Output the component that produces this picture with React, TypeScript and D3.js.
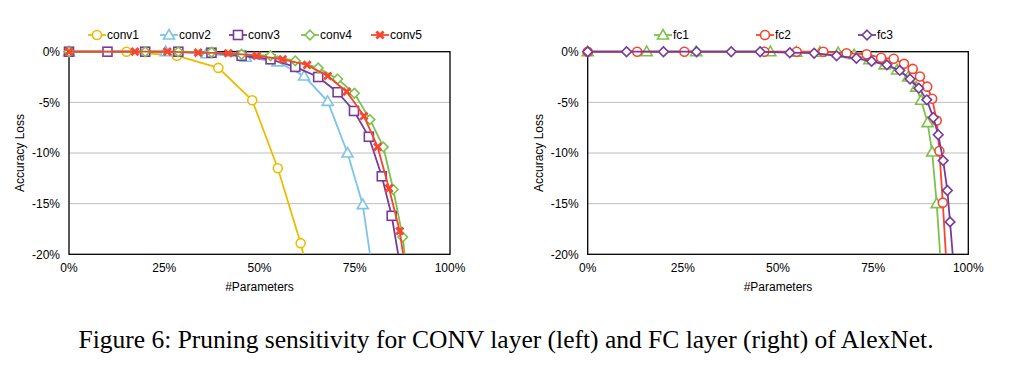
import React from 'react';
import * as d3 from 'd3';

const xTickValues = [0, 25, 50, 75, 100];
const yTickValues = [0, -5, -10, -15, -20];
const leftNames = ['conv1', 'conv2', 'conv3', 'conv4', 'conv5'];
const rightNames = ['fc1', 'fc2', 'fc3'];
const xLabel = '#Parameters';
const yLabel = 'Accuracy Loss';
const caption = 'Figure 6: Pruning sensitivity for CONV layer (left) and FC layer (right) of AlexNet.';

// [% parameters pruned, accuracy loss %]
const conv1: [number, number][] = [[0, 0], [15.1, 0], [28.3, -0.4], [39.2, -1.6], [48.1, -4.8], [54.8, -11.5], [60.8, -18.9], [61.5, -20]];
const conv2: [number, number][] = [[0, 0], [25.4, 0], [36.1, -0.2], [46.4, -0.55], [54.7, -1.0], [61.7, -2.4], [67.9, -4.9], [73.1, -10.0], [77.1, -15.1], [79.0, -20]];
const conv3: [number, number][] = [[0, 0], [10.1, 0], [20, 0], [28.7, 0], [37.4, -0.1], [45.3, -0.4], [52.9, -0.75], [59.4, -1.5], [65.4, -2.5], [70.5, -4.0], [74.8, -5.85], [78.7, -8.4], [82.1, -12.3], [84.7, -16.2], [86.4, -20]];
const conv4: [number, number][] = [[0, 0], [20, 0], [28.7, 0], [37.4, -0.05], [45.3, -0.25], [52.9, -0.4], [59.4, -0.9], [65.4, -1.6], [70.5, -2.7], [74.9, -4.1], [79.0, -6.7], [82.5, -9.4], [85.1, -13.6], [87.6, -18.3], [88.1, -20]];
const conv5: [number, number][] = [[0, 0], [17.3, 0], [25.8, 0], [33.9, -0.1], [41.8, -0.15], [49.3, -0.4], [56.1, -0.75], [62.5, -1.3], [67.9, -2.4], [72.9, -3.95], [77.4, -6.35], [81.0, -9.4], [84.0, -13.5], [86.8, -17.7], [87.7, -20]];

const fc1: [number, number][] = [[0, 0], [15.5, 0], [28.5, 0], [48.0, 0], [54.8, -0.05], [61.0, -0.05], [65.8, -0.1], [70.0, -0.3], [74.0, -0.8], [78.0, -1.3], [81.3, -1.8], [84.2, -2.5], [86.3, -3.5], [87.6, -4.8], [89.3, -7.0], [90.5, -9.9], [91.7, -15.0], [92.6, -20]];
const fc2: [number, number][] = [[0, 0], [13.0, 0], [25.4, 0], [46.4, 0], [54.9, 0], [61.9, 0], [68.0, -0.15], [73.3, -0.25], [77.1, -0.6], [80.4, -0.7], [83.1, -1.2], [85.4, -1.7], [87.3, -2.45], [89.2, -3.45], [90.5, -4.65], [91.7, -6.8], [92.4, -9.8], [93.3, -14.9], [94.1, -20]];
const fc3: [number, number][] = [[0, 0], [10.2, 0], [19.9, 0], [28.6, 0], [37.7, 0], [45.3, 0], [53.1, -0.1], [59.5, -0.15], [65.4, -0.4], [70.6, -0.65], [74.6, -0.95], [78.6, -1.3], [82.0, -1.85], [84.7, -2.7], [87.0, -3.6], [89.1, -4.75], [90.8, -6.5], [92.1, -8.2], [93.4, -10.75], [94.5, -13.7], [95.2, -16.8], [95.9, -20]];

const YELLOW = '#EDBC00';
const BLUE = '#7EC3E8';
const PURPLE = '#7A3A99';
const GREEN = '#7CC24A';
const RED = '#F5472F';

type MarkerType = 'circle' | 'triangle' | 'square' | 'diamond' | 'x';
type Series = { name: string; data: [number, number][]; color: string; marker: MarkerType };

const leftSeries: Series[] = [
  { name: leftNames[0], data: conv1, color: YELLOW, marker: 'circle' },
  { name: leftNames[1], data: conv2, color: BLUE, marker: 'triangle' },
  { name: leftNames[2], data: conv3, color: PURPLE, marker: 'square' },
  { name: leftNames[3], data: conv4, color: GREEN, marker: 'diamond' },
  { name: leftNames[4], data: conv5, color: RED, marker: 'x' },
];
const rightSeries: Series[] = [
  { name: rightNames[0], data: fc1, color: GREEN, marker: 'triangle' },
  { name: rightNames[1], data: fc2, color: RED, marker: 'circle' },
  { name: rightNames[2], data: fc3, color: PURPLE, marker: 'diamond' },
];

const FONT = 'Liberation Sans, Arial, sans-serif';

function Marker({ type, x, y, color }: { type: MarkerType; x: number; y: number; color: string }) {
  const sw = 1.6;
  switch (type) {
    case 'circle':
      return <circle cx={x} cy={y} r={4.5} fill="white" stroke={color} strokeWidth={sw} />;
    case 'square':
      return <rect x={x - 4.5} y={y - 4.5} width={9} height={9} fill="white" stroke={color} strokeWidth={sw} />;
    case 'triangle':
      return <path d={`M${x},${y - 5.5}L${x + 5.5},${y + 4}L${x - 5.5},${y + 4}Z`} fill="white" stroke={color} strokeWidth={sw} />;
    case 'diamond':
      return <path d={`M${x},${y - 4.8}L${x + 4.8},${y}L${x},${y + 4.8}L${x - 4.8},${y}Z`} fill="white" stroke={color} strokeWidth={sw} />;
    case 'x':
      return (
        <g stroke={color} strokeWidth={2.8} strokeLinecap="butt">
          <line x1={x - 3.6} y1={y - 3.6} x2={x + 3.6} y2={y + 3.6} />
          <line x1={x - 3.6} y1={y + 3.6} x2={x + 3.6} y2={y - 3.6} />
        </g>
      );
  }
}

function Chart({ id, x0, x1, series, legendX }: { id: string; x0: number; x1: number; series: Series[]; legendX: number[] }) {
  const top = 51.7;
  const bottom = 254.3;
  const x = d3.scaleLinear().domain([0, 100]).range([x0, x1]);
  const y = d3.scaleLinear().domain([0, -20]).range([top, bottom]);
  const line = d3.line<[number, number]>().x((d) => x(d[0])).y((d) => y(d[1]));
  const cx = (x0 + x1) / 2;
  const cy = (top + bottom) / 2;
  return (
    <g>
      <defs>
        <clipPath id={`clip-${id}`}>
          <rect x={x0 - 8} y={top - 8} width={x1 - x0 + 16} height={bottom - top + 8} />
        </clipPath>
      </defs>
      {yTickValues.slice(1, -1).map((t) => (
        <line key={t} x1={x0} x2={x1} y1={y(t)} y2={y(t)} stroke="#BDBDBD" strokeWidth={1} />
      ))}
      <rect x={x0} y={top} width={x1 - x0} height={bottom - top} fill="none" stroke="#000" strokeWidth={1.3} />
      {yTickValues.map((t) => (
        <text key={t} x={x0 - 9} y={y(t) + 4.2} textAnchor="end" fontFamily={FONT} fontSize={12} fill="#000">
          {`${t}%`}
        </text>
      ))}
      {xTickValues.map((t) => (
        <text key={t} x={x(t)} y={bottom + 18} textAnchor="middle" fontFamily={FONT} fontSize={12} fill="#000">
          {`${t}%`}
        </text>
      ))}
      <text x={cx} y={bottom + 37} textAnchor="middle" fontFamily={FONT} fontSize={12} fill="#000">
        {xLabel}
      </text>
      <text transform={`translate(${x0 - 45},${cy}) rotate(-90)`} textAnchor="middle" fontFamily={FONT} fontSize={12} fill="#000">
        {yLabel}
      </text>
      <g clipPath={`url(#clip-${id})`}>
        {series.map((s) => (
          <g key={s.name}>
            <path d={line(s.data) || ''} fill="none" stroke={s.color} strokeWidth={1.8} />
            {s.data
              .filter((d) => d[1] > -20)
              .map((d, i) => (
                <Marker key={i} type={s.marker} x={x(d[0])} y={y(d[1])} color={s.color} />
              ))}
          </g>
        ))}
      </g>
      {series.map((s, i) => (
        <g key={s.name}>
          <line x1={legendX[i] - 9} x2={legendX[i] + 9} y1={35} y2={35} stroke={s.color} strokeWidth={1.8} />
          <Marker type={s.marker} x={legendX[i]} y={35} color={s.color} />
          <text x={legendX[i] + 10} y={39.3} fontFamily={FONT} fontSize={12} fill="#000">
            {s.name}
          </text>
        </g>
      ))}
    </g>
  );
}

export default function App() {
  return (
    <svg width={1013} height={382} style={{ position: 'absolute', left: 0, top: 0, background: '#fff' }}>
      <rect width={1013} height={382} fill="#fff" />
      <Chart id="l" x0={69} x1={450} series={leftSeries} legendX={[97, 169, 238, 310, 380]} />
      <Chart id="r" x0={587.7} x1={968.3} series={rightSeries} legendX={[663, 765, 867]} />
      <text x={506} y={348} textAnchor="middle" fontFamily="Liberation Serif, Times New Roman, serif" fontSize={25.5} fill="#000">
        {caption}
      </text>
    </svg>
  );
}
